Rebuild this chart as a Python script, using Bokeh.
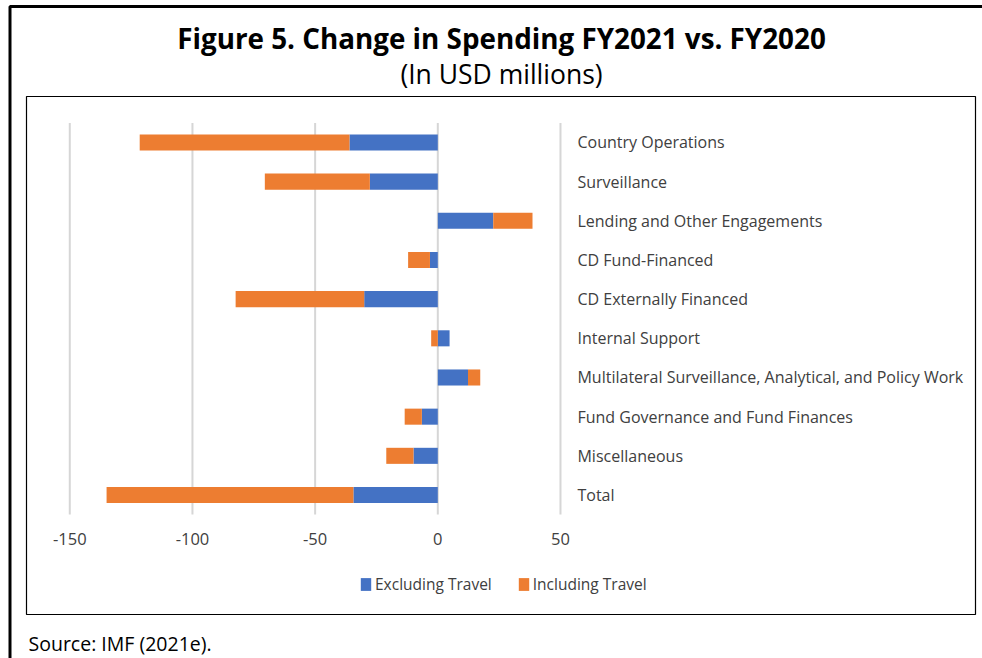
from bokeh.plotting import figure
from bokeh.models import (Range1d, Label, BoxAnnotation, Legend, LegendItem,
                          FixedTicker, ColumnDataSource)
from bokeh.embed import file_html
from bokeh.resources import INLINE

categories = [
    "Country Operations",
    "Surveillance",
    "Lending and Other Engagements",
    "CD Fund-Financed",
    "CD Externally Financed",
    "Internal Support",
    "Multilateral Surveillance, Analytical, and Policy Work",
    "Fund Governance and Fund Finances",
    "Miscellaneous",
    "Total",
]
excluding_travel = [-36.0, -27.7, 22.6, -3.2, -30.0, 4.8, 12.3, -6.5, -9.9, -34.4]
including_travel = [-85.5, -42.8, 16.0, -8.9, -52.4, -2.7, 5.0, -7.0, -11.1, -100.6]
x_ticks = [-150, -100, -50, 0, 50]
x_tick_labels = ["-150", "-100", "-50", "0", "50"]

# ---- layout (page pixels) ----
W, H = 982, 658
ZERO_X_PX, PX_PER_X = 437.3, 2.4535      # where 0 sits, px per USD million
LAST_ROW_PX, PX_PER_ROW = 494.5, 39.17   # centre of the last row, row pitch

n = len(categories)
ypos = [n - 1 - i for i in range(n)]

# stacking like a spreadsheet: positives and negatives stack separately
o_left, o_right = [], []
for b, o in zip(excluding_travel, including_travel):
    if (b >= 0) == (o >= 0):
        o_left.append(b)
        o_right.append(b + o)
    else:
        o_left.append(0)
        o_right.append(o)

src = ColumnDataSource(dict(
    y=ypos,
    b_left=[0] * n,
    b_right=excluding_travel,
    o_left=o_left,
    o_right=o_right,
))

x_range = Range1d(-ZERO_X_PX / PX_PER_X, (W - ZERO_X_PX) / PX_PER_X)
y_range = Range1d((LAST_ROW_PX - H) / PX_PER_ROW, LAST_ROW_PX / PX_PER_ROW)

FONT = "Open Sans"
TXT = "#404040"

p = figure(width=W, height=H, output_backend="svg", toolbar_location=None,
           x_range=x_range, y_range=y_range, y_axis_location="right",
           min_border=0)
p.outline_line_color = None
p.background_fill_color = "white"
p.border_fill_color = "white"
p.xgrid.visible = False
p.ygrid.visible = False

# gridlines spanning the category band
grid_src = ColumnDataSource(dict(x=x_ticks, y0=[-0.5] * len(x_ticks),
                                 y1=[n - 0.5] * len(x_ticks)))
p.segment(x0="x", x1="x", y0="y0", y1="y1", source=grid_src,
          line_color="#d6d6d6", line_width=2)

r_b = p.hbar(y="y", left="b_left", right="b_right", height=0.41, source=src,
             fill_color="#4472C4", line_color=None)
r_o = p.hbar(y="y", left="o_left", right="o_right", height=0.41, source=src,
             fill_color="#ED7D31", line_color=None)

# x axis (inside the frame, under the category band)
p.xaxis.fixed_location = -0.5
p.xaxis.ticker = FixedTicker(ticks=x_ticks)
p.xaxis.major_label_overrides = dict(zip(x_ticks, x_tick_labels))
p.xaxis.axis_line_color = None
p.xaxis.major_tick_line_color = None
p.xaxis.minor_tick_line_color = None
p.xaxis.major_tick_out = 0
p.xaxis.major_tick_in = 0
p.xaxis.major_label_standoff = 18
p.xaxis.major_label_text_font = FONT
p.xaxis.major_label_text_font_size = "16.5px"
p.xaxis.major_label_text_color = TXT

# category axis at the right end of the value scale
p.yaxis.fixed_location = x_ticks[-1]
p.yaxis.ticker = FixedTicker(ticks=ypos)
p.yaxis.major_label_overrides = dict(zip(ypos, categories))
p.yaxis.axis_line_color = None
p.yaxis.major_tick_line_color = None
p.yaxis.minor_tick_line_color = None
p.yaxis.major_tick_out = 0
p.yaxis.major_tick_in = 0
p.yaxis.major_label_standoff = 17
p.yaxis.major_label_text_font = FONT
p.yaxis.major_label_text_font_size = "16px"
p.yaxis.major_label_text_color = TXT

legend = Legend(items=[LegendItem(label="Excluding Travel", renderers=[r_b]),
                       LegendItem(label="Including Travel", renderers=[r_o])],
                location=(359, 63), orientation="horizontal",
                glyph_width=13, glyph_height=16, label_standoff=3, spacing=25,
                padding=0, margin=0, border_line_color=None,
                background_fill_alpha=0,
                label_text_font=FONT, label_text_font_size="15.5px",
                label_text_color=TXT)
p.add_layout(legend, "center")

# frames
p.add_layout(BoxAnnotation(left=26, right=975, top=96, bottom=614,
                           left_units="canvas", right_units="canvas",
                           top_units="canvas", bottom_units="canvas",
                           fill_alpha=0, line_color="black", line_alpha=1,
                           line_width=1.2))
p.add_layout(BoxAnnotation(left=9.5, right=3000, top=6, bottom=3000,
                           left_units="canvas", right_units="canvas",
                           top_units="canvas", bottom_units="canvas",
                           fill_alpha=0, line_color="black", line_alpha=1,
                           line_width=3))

p.add_layout(Label(x=501, y=37, x_units="canvas", y_units="canvas",
                   text="Figure 5. Change in Spending FY2021 vs. FY2020",
                   text_align="center", text_baseline="middle",
                   text_font=FONT, text_font_style="bold",
                   text_font_size="27.8px", text_color="black"))
p.add_layout(Label(x=501, y=73, x_units="canvas", y_units="canvas",
                   text="(In USD millions)",
                   text_align="center", text_baseline="middle",
                   text_font=FONT, text_font_size="26.5px", text_color="black"))
p.add_layout(Label(x=28, y=643, x_units="canvas", y_units="canvas",
                   text="Source: IMF (2021e).",
                   text_align="left", text_baseline="middle",
                   text_font=FONT, text_font_size="19.5px", text_color="black"))

open("out.html", "w").write(file_html(p, INLINE))
